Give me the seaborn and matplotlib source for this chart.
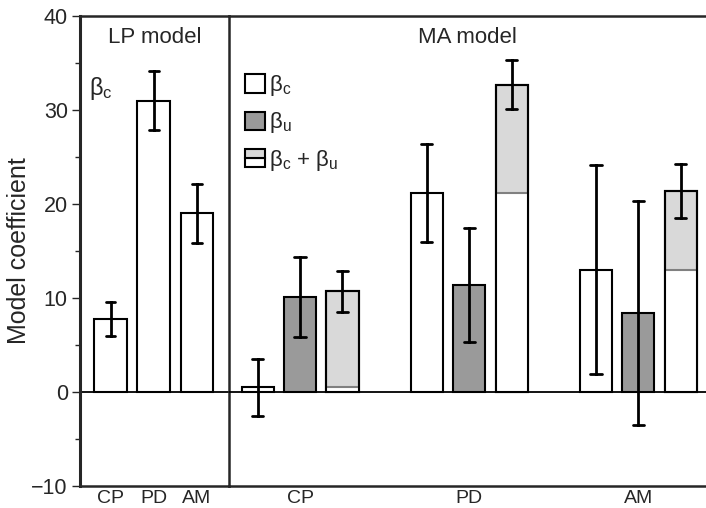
import numpy as np
import pandas as pd
import matplotlib
matplotlib.use("Agg")
import matplotlib.pyplot as plt
import seaborn as sns
from matplotlib.patches import Patch, Rectangle
from matplotlib.legend_handler import HandlerBase
from matplotlib.ticker import MultipleLocator

# values (bar height, half-width of error bar)
lp_cats = ["CP", "PD", "AM"]
lp_beta_c = [7.8, 31.0, 19.0]
lp_beta_c_err = [1.8, 3.1, 3.1]

ma_cats = ["CP", "PD", "AM"]
ma_beta_c = [0.5, 21.2, 13.0]
ma_beta_c_err = [3.0, 5.2, 11.1]
ma_beta_u = [10.1, 11.4, 8.4]
ma_beta_u_err = [4.3, 6.1, 11.9]
ma_sum = [10.7, 32.7, 21.4]
ma_sum_err = [2.15, 2.6, 2.85]

hue_names = ["bc", "bu", "sum"]
WHITE, DARK, LIGHT = "white", "#9a9a9a", "#d9d9d9"

sns.set_style("ticks")
plt.rcParams["font.family"] = ["Liberation Sans", "DejaVu Sans"]
plt.rcParams["mathtext.fontset"] = "custom"
plt.rcParams["mathtext.rm"] = "Liberation Serif"
plt.rcParams["mathtext.sf"] = "Liberation Sans"
plt.rcParams["mathtext.default"] = "regular"


def spread(vals, errs):
    # two rows per bar so that mean = bar height and (min, max) = error bar
    out = []
    for v, e in zip(vals, errs):
        out += [v - e, v + e]
    return out


lp_df = pd.DataFrame({
    "cat": np.repeat(lp_cats, 2),
    "value": spread(lp_beta_c, lp_beta_c_err),
})

ma_rows = []
for name, vals, errs in [("bc", ma_beta_c, ma_beta_c_err),
                         ("bu", ma_beta_u, ma_beta_u_err),
                         ("sum", ma_sum, ma_sum_err)]:
    ma_rows.append(pd.DataFrame({
        "cat": np.repeat(ma_cats, 2),
        "term": name,
        "value": spread(vals, errs),
    }))
ma_df = pd.concat(ma_rows, ignore_index=True)

minmax = lambda v: (v.min(), v.max())
err_kws = {"color": "black", "linewidth": 2.0}

fig = plt.figure(figsize=(7.06, 5.08), dpi=100)
ax1 = fig.add_axes([80 / 706, 22 / 508, 149 / 706, 470 / 508])
ax2 = fig.add_axes([229 / 706, 22 / 508, 477 / 706, 470 / 508], sharey=ax1)
ax2.patch.set_visible(False)

sns.barplot(data=lp_df, x="cat", y="value", order=lp_cats, estimator="mean",
            errorbar=minmax, color=WHITE, edgecolor="black", linewidth=1.5,
            width=0.76, capsize=0.22, err_kws=err_kws, ax=ax1)

sns.barplot(data=ma_df, x="cat", y="value", hue="term", order=ma_cats,
            hue_order=hue_names, estimator="mean", errorbar=minmax,
            palette={"bc": WHITE, "bu": DARK, "sum": LIGHT},
            edgecolor="black", linewidth=1.5, width=0.753, gap=0.245,
            capsize=0.2, err_kws=err_kws, legend=False, ax=ax2)

# stacked look for the beta_c + beta_u bars: white lower part up to beta_c
sum_bars = ax2.containers[2]
xs = [p.get_x() + p.get_width() / 2 for p in sum_bars]
w = sum_bars[0].get_width()
ax2.bar(xs, ma_beta_c, width=w, color="white", edgecolor="none", zorder=1.2)
ax2.hlines(ma_beta_c, [x - w / 2 for x in xs], [x + w / 2 for x in xs],
           color="#808080", linewidth=1.5, zorder=1.3)
ax2.bar(xs, ma_sum, width=w, fill=False, edgecolor="black", linewidth=1.5,
        zorder=1.4)

for ax in (ax1, ax2):
    ax.axhline(0, color="black", linewidth=1.3, zorder=1.5)
    ax.set_xlabel("")
    ax.tick_params(axis="x", length=0, pad=3, labelsize=14)
    for s in ["top", "bottom", "right"]:
        ax.spines[s].set_linewidth(1.8)
ax1.spines["left"].set_linewidth(2.2)

ax1.set_xlim(-0.71, 2.74)
ax2.set_xlim(-0.42, 2.40)
ax1.set_ylim(-10, 40)
ax1.yaxis.set_major_locator(MultipleLocator(10))
ax1.yaxis.set_minor_locator(MultipleLocator(5))
ax1.tick_params(axis="y", which="major", length=5.8, width=1, pad=3, labelsize=15.5)
ax1.tick_params(axis="y", which="minor", length=3.3, width=1)
ax1.set_ylabel("Model coefficient", fontsize=18)
ax1.yaxis.set_label_coords(-0.328, 0.5)
ax1.set_yticks([-10, 0, 10, 20, 30, 40], ["\u221210", "0", "10", "20", "30", "40"])

ax2.spines["left"].set_visible(False)
ax2.spines["right"].set_visible(False)
ax2.tick_params(axis="y", which="both", left=False, labelleft=False)
ax2.set_ylabel("")

ax1.text(0.5, 0.955, "LP model", transform=ax1.transAxes, ha="center",
         va="center", fontsize=16)
ax2.text(0.5, 0.955, "MA model", transform=ax2.transAxes, ha="center",
         va="center", fontsize=16)
ax1.text(0.06, 0.845, r"$\beta_{\mathsf{c}}$", transform=ax1.transAxes,
         ha="left", va="center", fontsize=17)


class SplitHandler(HandlerBase):
    def create_artists(self, legend, orig_handle, xdescent, ydescent,
                       width, height, fontsize, trans):
        bot = Rectangle((-xdescent, -ydescent), width, height / 2,
                        facecolor="white", edgecolor="black", linewidth=1.5,
                        transform=trans)
        top = Rectangle((-xdescent, -ydescent + height / 2), width, height / 2,
                        facecolor=LIGHT, edgecolor="black", linewidth=1.5,
                        transform=trans)
        return [bot, top]


split = Patch(facecolor=LIGHT, edgecolor="black")
handles = [Patch(facecolor=WHITE, edgecolor="black", linewidth=1.5),
           Patch(facecolor=DARK, edgecolor="black", linewidth=1.5),
           split]
labels = [r"$\beta_{\mathsf{c}}$", r"$\beta_{\mathsf{u}}$",
          r"$\beta_{\mathsf{c}}$ + $\beta_{\mathsf{u}}$"]
ax2.legend(handles, labels, handler_map={split: SplitHandler()},
           loc="upper left", bbox_to_anchor=(0.01, 0.902), frameon=False,
           fontsize=16, handlelength=0.9, handleheight=0.9,
           handletextpad=0.2, labelspacing=0.55, borderpad=0)

fig.savefig("out.png", dpi=100)
